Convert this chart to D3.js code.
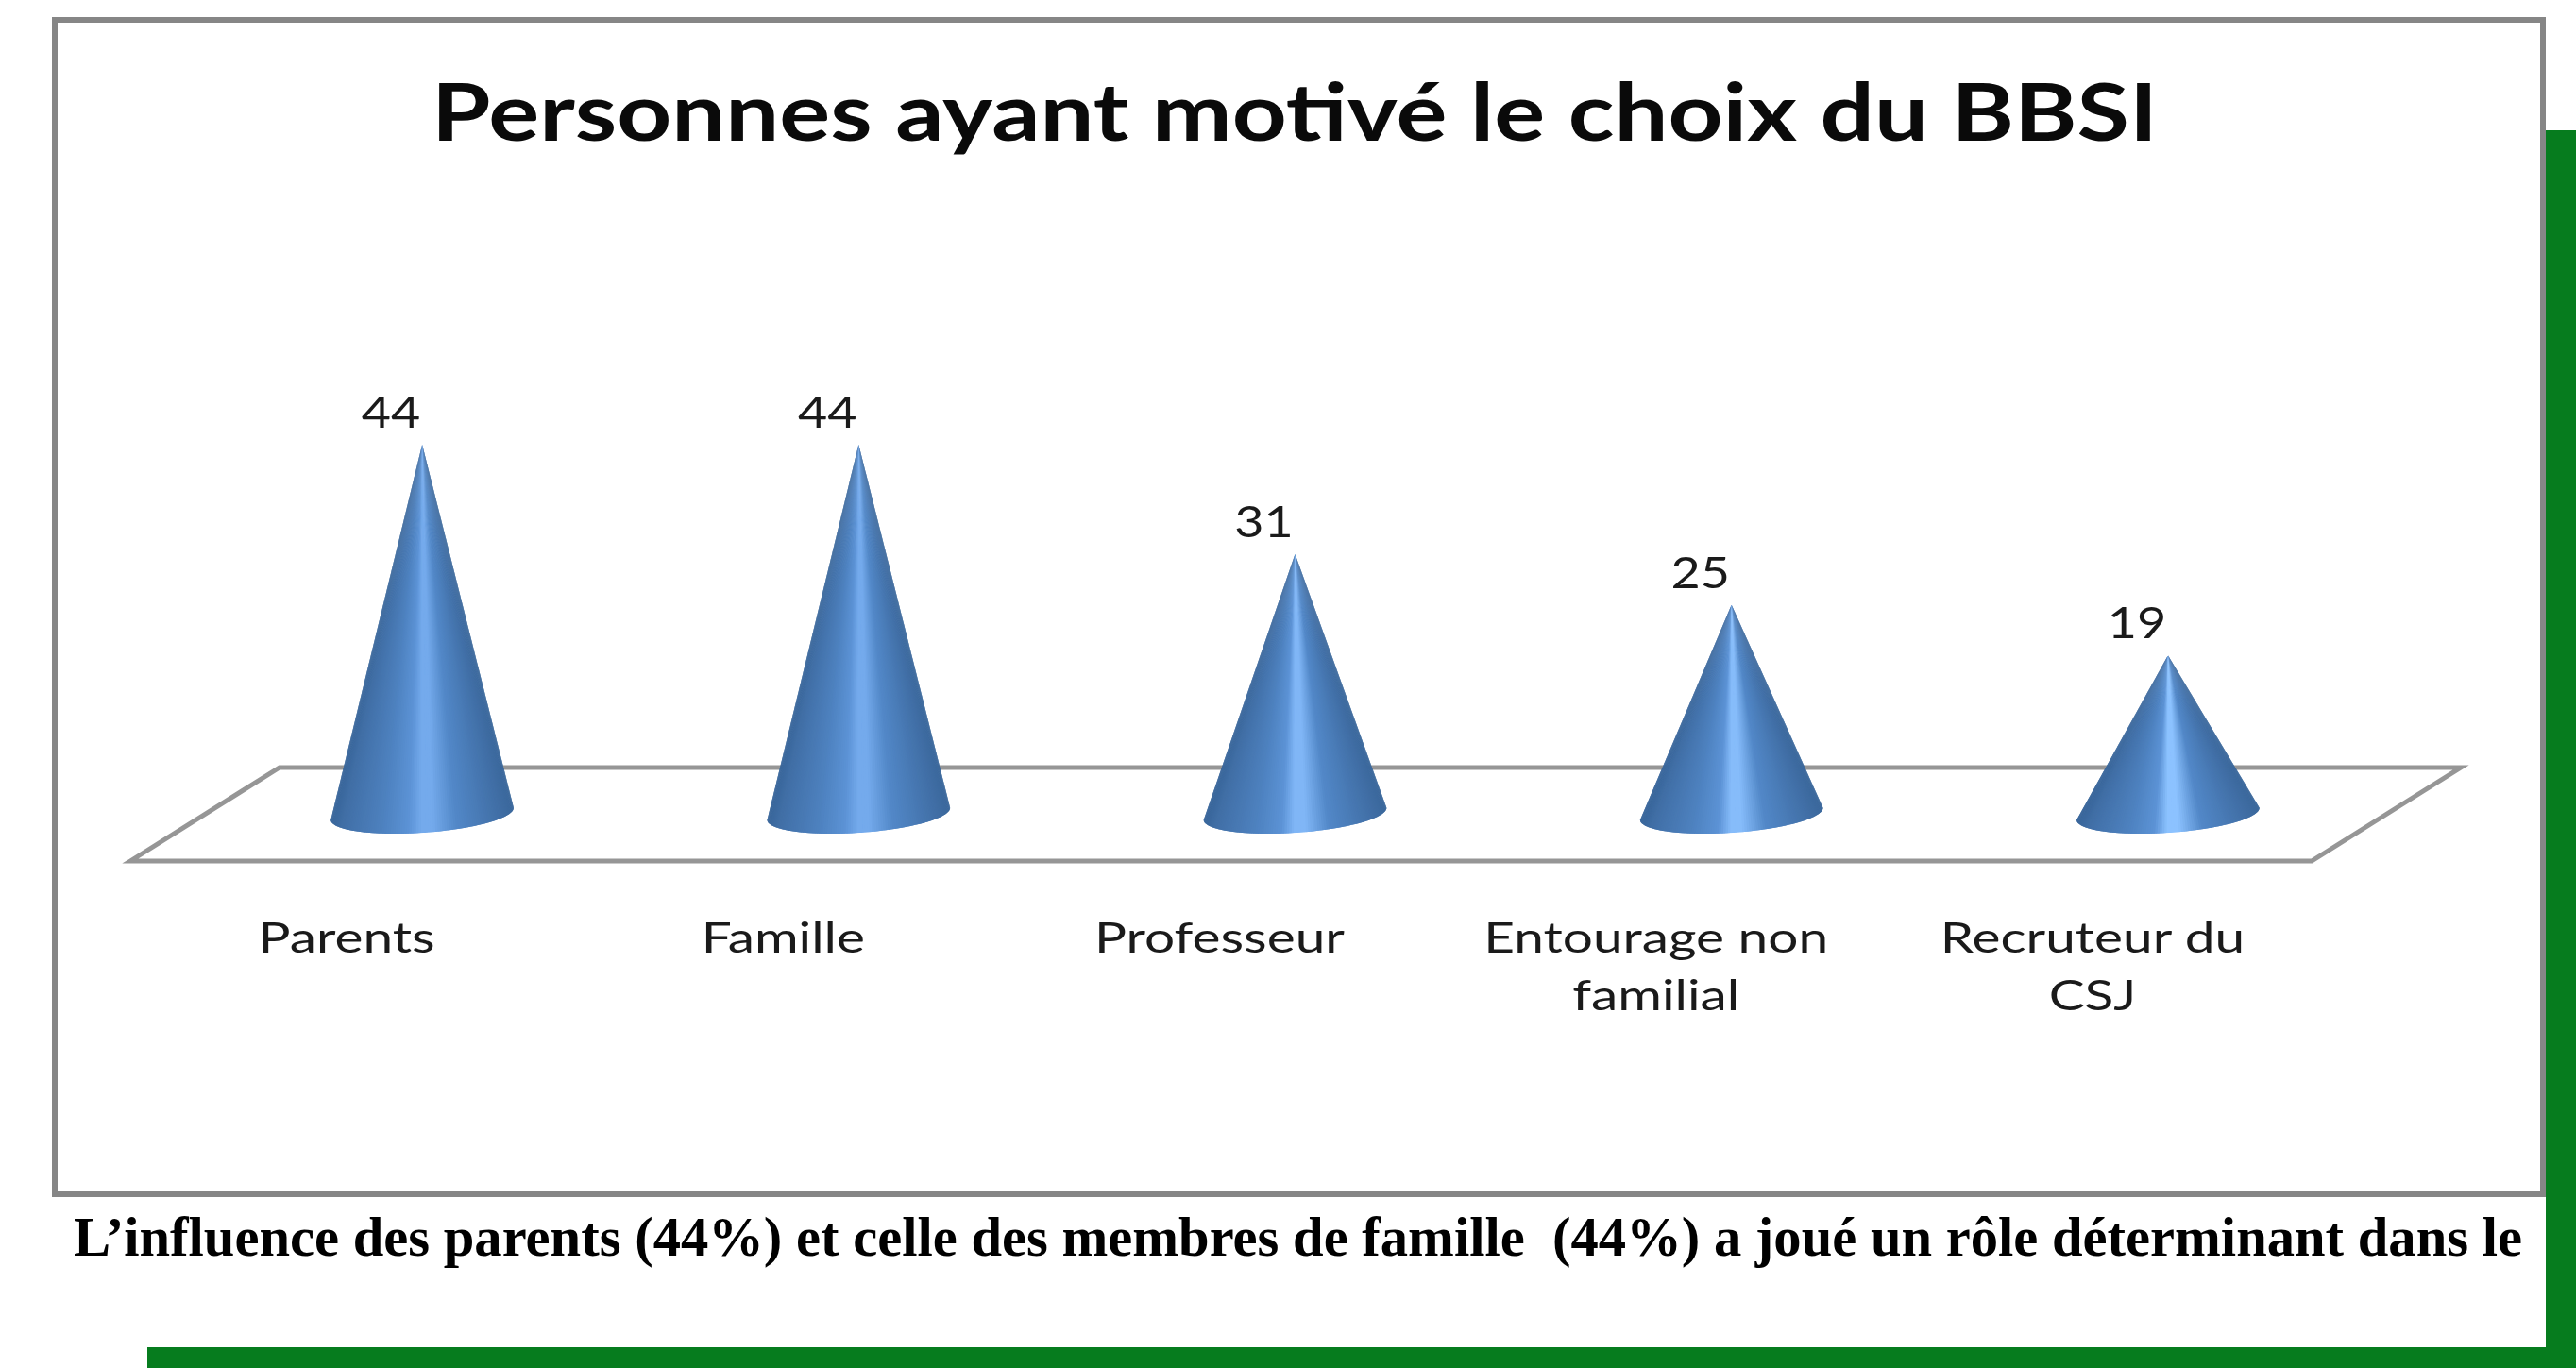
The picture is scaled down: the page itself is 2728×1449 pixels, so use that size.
<!DOCTYPE html>
<html>
<head>
<meta charset="utf-8">
<script src="https://cdn.jsdelivr.net/npm/d3@7"></script>
<style>
    html, body { margin: 0; padding: 0; background: #fff; overflow: hidden; }
    svg { display: block; }
</style>
</head>
<body>
<div id="chart-area"></div>
<script>
const TITLE = "Personnes ayant motivé le choix du BBSI";
const CAPTION = "L’influence des parents (44%) et celle des membres de famille  (44%) a joué un rôle déterminant dans le";
const categories = ["Parents", "Famille", "Professeur", "Entourage non\nfamilial", "Recruteur du\nCSJ"];
const values = [44, 44, 31, 25, 19];

const FIGURE = { WIDTH: 2728, HEIGHT: 1449 };
const FRAME = { LEFT: 58, TOP: 21, RIGHT: 2693, BOTTOM: 1265 };
const GREEN = "#067c1e";

let svg = d3.select("#chart-area")
    .append("svg")
        .attr("width", FIGURE.WIDTH)
        .attr("height", FIGURE.HEIGHT);

// Green page decoration behind the chart
svg.append("rect")
    .attr("x", 2696).attr("y", 138)
    .attr("width", 32).attr("height", 1311)
    .attr("fill", GREEN);
svg.append("rect")
    .attr("x", 156).attr("y", 1427)
    .attr("width", 2572).attr("height", 22)
    .attr("fill", GREEN);

// Chart frame
svg.append("rect")
    .attr("x", FRAME.LEFT).attr("y", FRAME.TOP)
    .attr("width", FRAME.RIGHT - FRAME.LEFT)
    .attr("height", FRAME.BOTTOM - FRAME.TOP)
    .attr("fill", "#fff")
    .attr("stroke", "#868686")
    .attr("stroke-width", 6);

// Scales
let x = d3.scaleBand()
    .domain(categories)
    .range([216, 2527])
    .paddingInner(0.58)
    .paddingOuter(0.29);

let y = d3.scaleLinear()
    .domain([0, 44])
    .range([864, 471]);

const center = d => x(d) + x.bandwidth() / 2;

// Floor of the 3D chart
const FLOOR = { BACK: y(0) - 51, FRONT: y(0) + 48, SKEW: 158, LEFT: 138, RIGHT: 2448 };
svg.append("path")
    .attr("d", d3.line()([
        [FLOOR.LEFT, FLOOR.FRONT],
        [FLOOR.LEFT + FLOOR.SKEW, FLOOR.BACK],
        [FLOOR.RIGHT + FLOOR.SKEW, FLOOR.BACK],
        [FLOOR.RIGHT, FLOOR.FRONT]
    ]) + "Z")
    .attr("fill", "#fff")
    .attr("stroke", "#969696")
    .attr("stroke-width", 5);

// Cones are drawn as thin wedges from apex to base, so the shading narrows at the tip
const TILT = -3.9 * Math.PI / 180;
const WEDGES = 120;
const baseRy = 20;

function coneColor(value) {
    let shine = d3.scaleLinear().domain([19, 44]).range(["#8cc2ff", "#74aaec"])(value);
    return d3.scaleLinear()
        .domain([0, 0.06, 0.28, 0.42, 0.49, 0.55, 0.68, 0.92, 1])
        .range(["#38659a", "#416fa6", "#4e82c0", "#5c93d6", shine, shine, "#5288c8", "#416fa6", "#3a679b"]);
}

function basePoint(cx, cy, rx, a) {
    let px = rx * Math.cos(a);
    let py = baseRy * Math.sin(a);
    return [
        cx + px * Math.cos(TILT) - py * Math.sin(TILT),
        cy + px * Math.sin(TILT) + py * Math.cos(TILT)
    ];
}

let cones = svg.selectAll(".cone")
    .data(categories.map((c, i) => ({ category: c, value: values[i] })))
    .enter()
    .append("g")
        .attr("class", "cone");

cones.each(function(d) {
    let cx = center(d.category);
    let cy = y(0) - 2;
    let rx = x.bandwidth() / 2;
    let apex = [cx, y(d.value)];
    let color = coneColor(d.value);
    let g = d3.select(this);
    // Painted from the outer edges inwards, each wedge runs under the next one to hide seams
    let half = WEDGES / 2;
    d3.range(half).forEach(i => {
        let step = Math.PI / WEDGES;
        [[Math.PI - i * step, Math.PI - (i + 2) * step], [i * step, (i + 2) * step]].forEach(([a0, a1]) => {
            let mid = a0 + (a1 - a0) / 4;
            let c = color((1 + Math.cos(mid)) / 2);
            g.append("path")
                .attr("d", d3.line()([apex, basePoint(cx, cy, rx, a0), basePoint(cx, cy, rx, a1)]) + "Z")
                .attr("fill", c);
        });
    });
});

// Stretches a text horizontally by a factor, the source picture is wider than the font
function stretch(selection, factor) {
    selection.each(function() {
        let w = this.getComputedTextLength();
        d3.select(this)
            .attr("textLength", w * factor)
            .attr("lengthAdjust", "spacingAndGlyphs");
    });
}

// Value labels
svg.selectAll(".value-label")
    .data(values)
    .enter()
    .append("text")
        .attr("class", "value-label")
        .attr("x", (d, i) => center(categories[i]) - 33)
        .attr("y", d => y(d) - 18)
        .attr("text-anchor", "middle")
        .attr("font-family", "Lato")
        .attr("font-size", 46)
        .attr("fill", "#1a1a1a")
        .text(d => d)
        .call(stretch, 1.17);

// Category axis, shifted left because of the 3D depth
let xAxis = d3.axisBottom(x).tickSize(0).tickPadding(0).tickFormat("");
let axisGroup = svg.append("g")
    .attr("class", "x-axis")
    .attr("transform", "translate(-80, 1009)")
    .call(xAxis);
axisGroup.select(".domain").remove();
axisGroup.selectAll(".tick text").remove();
axisGroup.selectAll(".tick").each(function(d) {
    d.split("\n").forEach((line, i) => {
        d3.select(this).append("text")
            .attr("y", i * 61)
            .attr("text-anchor", "middle")
            .attr("font-family", "Lato")
            .attr("font-size", 44)
            .attr("fill", "#1a1a1a")
            .text(line)
            .call(stretch, 1.29);
    });
});

// Title
svg.append("text")
    .attr("x", 1371)
    .attr("y", 149)
    .attr("text-anchor", "middle")
    .attr("font-family", "Lato")
    .attr("font-weight", 700)
    .attr("font-size", 84)
    .attr("fill", "#0a0a0a")
    .text(TITLE)
    .attr("textLength", 1828)
    .attr("lengthAdjust", "spacingAndGlyphs");

// Caption below the chart, slightly taller than the plain font
svg.append("text")
    .attr("transform", "translate(78, 1330) scale(1, 1.07)")
    .attr("xml:space", "preserve")
    .style("white-space", "pre")
    .attr("font-family", "Liberation Serif")
    .attr("font-weight", 700)
    .attr("font-size", 56)
    .attr("fill", "#000")
    .text(CAPTION)
    .attr("textLength", 2593)
    .attr("lengthAdjust", "spacingAndGlyphs");
</script>
</body>
</html>
